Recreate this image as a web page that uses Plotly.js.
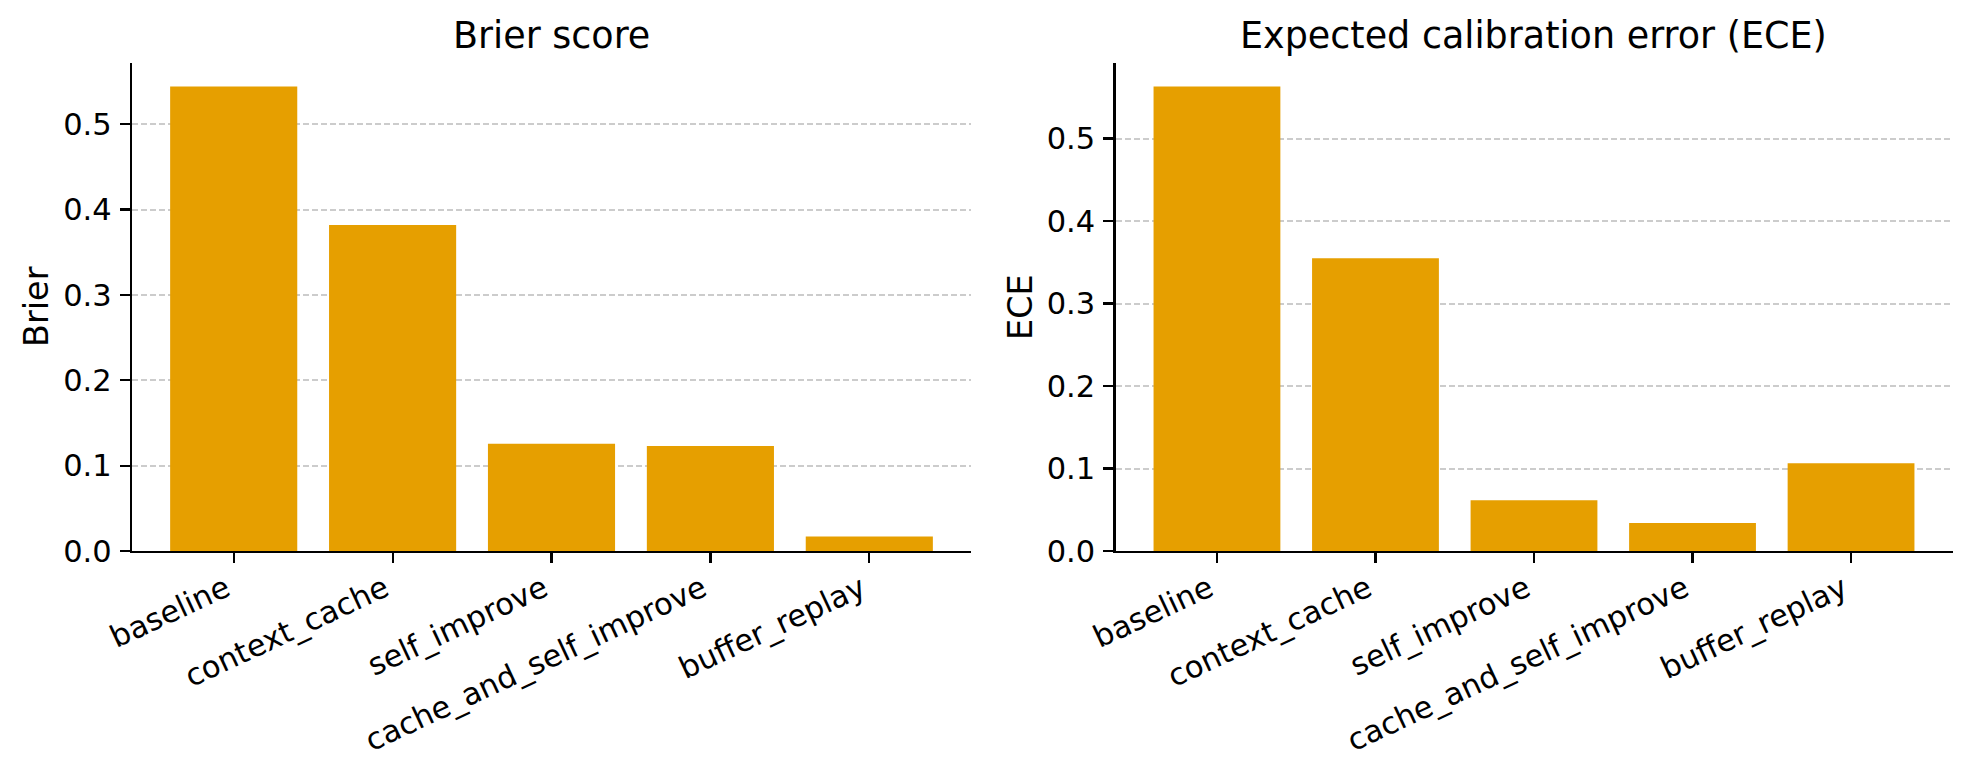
<!DOCTYPE html>
<html>
<head>
<meta charset="utf-8">
<script src="https://cdn.plot.ly/plotly-3.0.1.min.js"></script>
<style>html,body{margin:0;padding:0;background:#fff;}#chart{width:1973px;height:774px;}</style>
</head>
<body>
<div id="chart"></div>
<script>
const categories = ["baseline", "context_cache", "self_improve", "cache_and_self_improve", "buffer_replay"];
const brierValues = [0.544, 0.382, 0.1255, 0.123, 0.017];
const eceValues = [0.563, 0.355, 0.0615, 0.034, 0.1065];
const yTickValues = [0.0, 0.1, 0.2, 0.3, 0.4, 0.5];
const panelTitles = ["Brier score", "Expected calibration error (ECE)"];
const yLabels = ["Brier", "ECE"];

const W = 1973, H = 774;
const barColor = "#E69F00";
const FONT = "DejaVu Sans, sans-serif";
const TICK = 30.5;

function axisX(domain, anchor) {
  return {
    domain: domain, anchor: anchor, type: "category",
    range: [-0.64, 4.64],
    showline: true, linecolor: "#000", linewidth: 2.2,
    ticks: "outside", ticklen: 10, tickwidth: 2.2, tickcolor: "#000",
    tickangle: -25, showgrid: false, zeroline: false,
    tickfont: {family: FONT, size: TICK, color: "#000"},
    ticklabelstandoff: -4, ticklabelshift: -8
  };
}
function axisY(anchor, maxV) {
  return {
    anchor: anchor, domain: [0.2881, 0.9181],
    range: [0, maxV * 1.05],
    tickvals: yTickValues, tickformat: ".1f",
    showline: true, linecolor: "#000", linewidth: 2.2,
    ticks: "outside", ticklen: 10, tickwidth: 2.2, tickcolor: "#000",
    showgrid: true, gridcolor: "#cccccc", gridwidth: 2, griddash: "6px,3px",
    zeroline: false,
    tickfont: {family: FONT, size: TICK, color: "#000"},
    ticklabelstandoff: 2
  };
}

const data = [
  {type: "bar", x: categories, y: brierValues, xaxis: "x", yaxis: "y",
   marker: {color: barColor, line: {width: 0}}, width: 0.8, hoverinfo: "x+y"},
  {type: "bar", x: categories, y: eceValues, xaxis: "x2", yaxis: "y2",
   marker: {color: barColor, line: {width: 0}}, width: 0.8, hoverinfo: "x+y"}
];

const d1 = [132 / W, 971 / W];
const d2 = [1115.5 / W, 1952.5 / W];

const layout = {
  width: W, height: H,
  margin: {l: 0, r: 0, t: 0, b: 0},
  paper_bgcolor: "#fff", plot_bgcolor: "#fff",
  showlegend: false,
  font: {family: FONT, color: "#000"},
  xaxis: axisX(d1, "y"),
  yaxis: axisY("x", Math.max(...brierValues)),
  xaxis2: axisX(d2, "y2"),
  yaxis2: axisY("x2", Math.max(...eceValues)),
  annotations: [
    {text: panelTitles[0], xref: "paper", yref: "paper", x: (d1[0] + d1[1]) / 2, y: (H - 35) / H,
     xanchor: "center", yanchor: "middle", showarrow: false, font: {family: FONT, size: 36.5, color: "#000"}},
    {text: panelTitles[1], xref: "paper", yref: "paper", x: (d2[0] + d2[1]) / 2, y: (H - 35) / H,
     xanchor: "center", yanchor: "middle", showarrow: false, font: {family: FONT, size: 36.5, color: "#000"}},
    {text: yLabels[0], xref: "paper", yref: "paper", x: 36 / W, y: (H - 307) / H, textangle: -90,
     xanchor: "center", yanchor: "middle", showarrow: false, font: {family: FONT, size: 33.5, color: "#000"}},
    {text: yLabels[1], xref: "paper", yref: "paper", x: 1020 / W, y: (H - 307) / H, textangle: -90,
     xanchor: "center", yanchor: "middle", showarrow: false, font: {family: FONT, size: 33.5, color: "#000"}}
  ]
};

Plotly.newPlot("chart", data, layout, {displayModeBar: false, staticPlot: true});
</script>
</body>
</html>
